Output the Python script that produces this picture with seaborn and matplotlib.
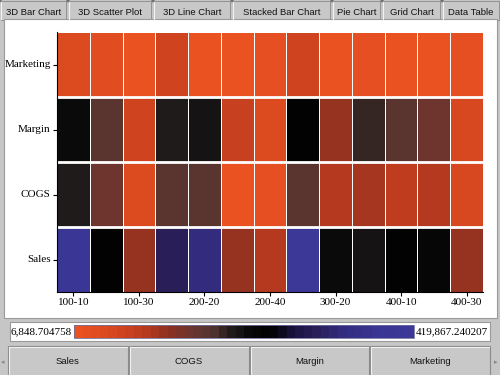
import numpy as np
import pandas as pd
import seaborn as sns
import matplotlib
matplotlib.use("Agg")
import matplotlib.pyplot as plt
from matplotlib.colors import LinearSegmentedColormap
from matplotlib.patches import Rectangle

# ---------------- data ----------------
products = ["100-10", "100-20", "100-30", "200-10", "200-20", "200-30", "200-40",
            "300-10", "300-20", "300-30", "400-10", "400-20", "400-30"]
measures = ["Marketing", "Margin", "COGS", "Sales"]

marketing = [39850, 31620, 6848.704758, 60480, 15130, 11010, 19260,
             64700, 10940, 27480, 11030, 15150, 19210]
margin = [213400, 163800, 68800, 196800, 213300, 68900, 48150,
          238100, 118400, 188600, 163700, 143100, 56400]
cogs = [196900, 151400, 48100, 163800, 163900, 15100, 19200,
        163700, 89500, 110100, 89400, 89600, 48200]
sales = [399200, 238100, 118400, 296000, 329000, 118300, 97700,
         419867.240207, 213400, 213300, 242300, 234000, 118400]

tab_labels = ["3D Bar Chart", "3D Scatter Plot", "3D Line Chart",
              "Stacked Bar Chart", "Pie Chart", "Grid Chart", "Data Table"]
button_labels = ["Sales", "COGS", "Margin", "Marketing"]

df = pd.DataFrame([marketing, margin, cogs, sales], index=measures, columns=products)
vmin = float(np.min(df.values))
vmax = float(np.max(df.values))

stops = [(0.00, "#EA5222"), (0.10, "#D84820"), (0.20, "#B83A1E"),
         (0.27, "#8E3020"), (0.34, "#6A3530"), (0.40, "#553530"),
         (0.46, "#201C1C"), (0.52, "#080808"), (0.58, "#000000"),
         (0.65, "#1A1440"), (0.72, "#2A1E5A"), (0.80, "#332C80"),
         (0.90, "#3A3592"), (1.00, "#3B3898")]
cmap = LinearSegmentedColormap.from_list("gridchart", stops, N=40)

# ---------------- figure / chrome ----------------
W, H = 500, 375
fig = plt.figure(figsize=(5, 3.75), dpi=100, facecolor="#c6c6c6")
bg = fig.add_axes([0, 0, 1, 1])
bg.set_xlim(0, W)
bg.set_ylim(H, 0)
bg.axis("off")

ui_font = ["Liberation Sans", "DejaVu Sans"]

# tabs
tab_edges = [(0, 67), (68, 152), (153, 231), (232, 331), (332, 381), (382, 441), (442, 500)]
for (x0, x1), lab in zip(tab_edges, tab_labels):
    bg.add_patch(Rectangle((x0 + 1, 1), x1 - x0 - 2, 19, facecolor="#c8c8c8",
                           edgecolor="#8a8a8a", lw=0.6))
    bg.plot([x0 + 1, x0 + 1], [2, 19], color="#f2f2f2", lw=0.8)
    bg.text((x0 + x1) / 2, 12.5, lab, ha="center", va="center", fontsize=6.8,
            family=ui_font, color="#111111")
    bg.add_patch(plt.Polygon([[x0 - 2, 0], [x0 + 2, 0], [x0, 3]], closed=True,
                             facecolor="#707070", edgecolor="none"))

# main white panel
bg.add_patch(Rectangle((4, 19), 493, 299, facecolor="white", edgecolor="#9a9a9a", lw=0.8))
# colorbar panel
bg.add_patch(Rectangle((10, 322), 480, 19, facecolor="white", edgecolor="#9a9a9a", lw=0.8))

# bottom buttons
btn_edges = [(8, 128), (129, 249), (250, 369), (370, 490)]
for (x0, x1), lab in zip(btn_edges, button_labels):
    bg.add_patch(Rectangle((x0, 346), x1 - x0, 30, facecolor="#c8c8c8",
                           edgecolor="#8a8a8a", lw=0.8))
    bg.plot([x0 + 1, x1 - 1], [347, 347], color="#f0f0f0", lw=0.8)
    bg.plot([x0 + 1, x0 + 1], [347, 375], color="#f0f0f0", lw=0.8)
    bg.text((x0 + x1) / 2, 362, lab, ha="center", va="center", fontsize=6.8,
            family=ui_font, color="#111111")
bg.text(3, 362, "◂", ha="center", va="center", fontsize=5, color="#888888", family=["DejaVu Sans"])
bg.text(496, 362, "▸", ha="center", va="center", fontsize=5, color="#888888", family=["DejaVu Sans"])

# ---------------- heatmap ----------------
ax = fig.add_axes([57 / W, 1 - 292 / H, 426 / W, 260 / H])
cax = fig.add_axes([74 / W, 1 - 338 / H, 340 / W, 13 / H])

sns.heatmap(df, ax=ax, cmap=cmap, vmin=vmin, vmax=vmax, linewidths=0.6,
            linecolor="white", cbar_ax=cax, cbar_kws={"orientation": "horizontal"})

for i in range(1, len(measures)):
    ax.axhline(i, color="white", lw=2.0)

serif = ["Liberation Serif", "DejaVu Serif"]
ax.set_xticks(np.arange(0, len(products), 2) + 0.5)
ax.set_xticklabels(products[::2], rotation=0, fontsize=8, family=serif)
ax.set_yticks(np.arange(len(measures)) + 0.5)
ax.set_yticklabels(measures, rotation=0, fontsize=8, family=serif)
ax.set_xlabel("")
ax.set_ylabel("")
ax.tick_params(axis="both", length=3, width=0.8, color="black", pad=1.5)
for side in ["top", "right"]:
    ax.spines[side].set_visible(False)
for side in ["left", "bottom"]:
    ax.spines[side].set_visible(True)
    ax.spines[side].set_color("black")
    ax.spines[side].set_linewidth(0.8)

cax.set_xticks([])
cax.set_yticks([])
cb = ax.collections[0].colorbar
cb.outline.set_linewidth(0.6)
cb.outline.set_edgecolor("#7070a0")

fig.text(72 / W, 1 - 331.5 / H, "6,848.704758", ha="right", va="center",
         fontsize=8, family=serif)
fig.text(416 / W, 1 - 331.5 / H, "419,867.240207", ha="left", va="center",
         fontsize=8, family=serif)

fig.savefig("out.png", dpi=100, facecolor=fig.get_facecolor())
